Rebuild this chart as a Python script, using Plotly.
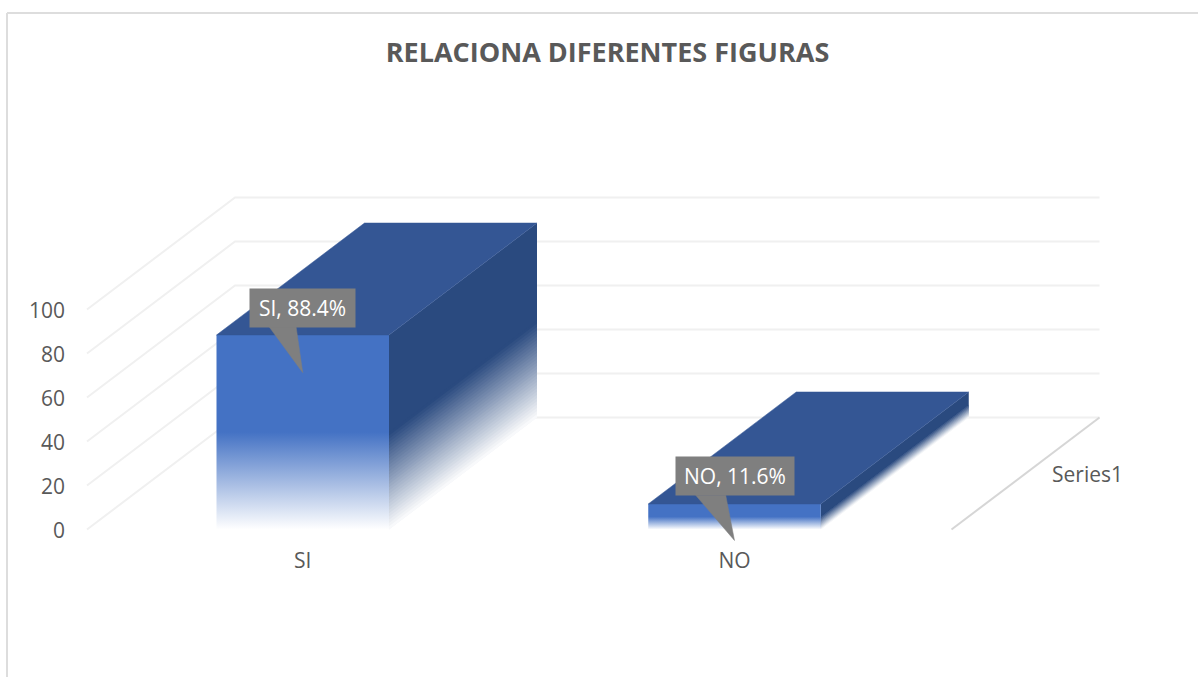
import plotly.graph_objects as go

categorias = ["SI", "NO"]
valores = [88.4, 11.6]
etiquetas = ["SI, 88.4%", "NO, 11.6%"]
ticks_y = [0, 20, 40, 60, 80, 100]
serie = "Series1"
titulo = "RELACIONA DIFERENTES FIGURAS"

# escala de la pagina (px por unidad de eje)
PX_CAT = 431.75
PX_VAL = 2.2
X0_PX = 302.75
Y0_PX = 529.5
ANCHO, ALTO = 1198, 677
PLOT_L, PLOT_R, PLOT_T, PLOT_B = 66, 1198, 90, 546

# estilo pseudo 3D
ANCHO_BARRA = 172.5 / PX_CAT
PROF_X = 148 / PX_CAT
PROF_Y = 112 / PX_VAL
PARED_X0 = (87 - X0_PX) / PX_CAT
PARED_X1 = (951.5 - X0_PX) / PX_CAT

AZUL = (68, 114, 196)
AZUL_TOP = "#345694"
AZUL_LADO = (42, 74, 127)
GRIS_GRID = "#f0f0f0"
GRIS_EJE = "#d6d6d6"
GRIS_TXT = "#595959"
GRIS_LABEL = "#7f7f7f"
FUENTE = "Open Sans"

# globo de las etiquetas: base del pico (px respecto al centro) y punta en valor de eje
GLOBO_BASE = [(-34, -6.75), (-38.8, -8.8)]
GLOBO_PUNTA = [71.3, -5.0]
GLOBO_DY = 27.5


def poligono(xs, ys, color, borde=0.5):
    return go.Scatter(x=xs + xs[:1], y=ys + ys[:1], mode="lines", fill="toself", fillcolor=color,
                      line=dict(color=color, width=borde), hoverinfo="skip", showlegend=False)


def mezcla(c, t):
    return "rgb(%d,%d,%d)" % tuple(round(255 + (k - 255) * t) for k in c)


fig = go.Figure()

# paredes y rejilla
for t in ticks_y:
    fig.add_trace(go.Scatter(
        x=[PARED_X0, PARED_X0 + PROF_X, PARED_X1 + PROF_X],
        y=[t, t + PROF_Y, t + PROF_Y],
        mode="lines", line=dict(color=GRIS_GRID, width=2), hoverinfo="skip", showlegend=False))

# eje de profundidad
fig.add_trace(go.Scatter(x=[PARED_X1, PARED_X1 + PROF_X], y=[0, PROF_Y], mode="lines",
                         line=dict(color=GRIS_EJE, width=2), hoverinfo="skip", showlegend=False))

# barras
for i, v in enumerate(valores):
    x0, x1 = i - ANCHO_BARRA / 2, i + ANCHO_BARRA / 2

    # cara lateral: tramos de arriba abajo, cada uno solapa con el anterior para evitar costuras
    n = 30
    paso = v * 0.5 / n
    fig.add_trace(poligono([x1, x1, x1 + PROF_X, x1 + PROF_X],
                           [v * 0.5 - paso, v, v + PROF_Y, v * 0.5 - paso + PROF_Y],
                           mezcla(AZUL_LADO, 1), borde=0))
    for k in range(n):
        arriba = v * 0.5 - k * paso
        abajo = max(arriba - 2 * paso, 0)
        fig.add_trace(poligono([x1, x1, x1 + PROF_X, x1 + PROF_X],
                               [abajo, arriba, arriba + PROF_Y, abajo + PROF_Y],
                               mezcla(AZUL_LADO, 1 - k / n), borde=0))

    # cara frontal
    fig.add_trace(go.Scatter(
        x=[x0, x1, x1, x0, x0], y=[0, 0, v, v, 0], mode="lines", fill="toself",
        line=dict(width=0),
        fillgradient=dict(type="vertical", start=0, stop=v,
                          colorscale=[[0, "rgba(%d,%d,%d,0)" % AZUL],
                                      [0.5, "rgb(%d,%d,%d)" % AZUL],
                                      [1, "rgb(%d,%d,%d)" % AZUL]]),
        hoverinfo="skip", showlegend=False))

    # cara superior
    fig.add_trace(poligono([x0, x1, x1 + PROF_X, x0 + PROF_X],
                           [v, v, v + PROF_Y, v + PROF_Y], AZUL_TOP))

# etiquetas con globo
anotaciones = []
for i, v in enumerate(valores):
    base_y = v + (GLOBO_DY - 18.75) / PX_VAL
    fig.add_trace(poligono([i + GLOBO_BASE[i][0] / PX_CAT, i + GLOBO_BASE[i][1] / PX_CAT, i],
                           [base_y, base_y, GLOBO_PUNTA[i]], GRIS_LABEL))
    anotaciones.append(dict(x=i, y=v, xref="x", yref="y", yshift=GLOBO_DY, text=etiquetas[i],
                            showarrow=False, bgcolor=GRIS_LABEL, width=103 if i == 0 else 116,
                            height=36, align="center", valign="middle",
                            font=dict(family=FUENTE, size=21, color="white")))

anotaciones.append(dict(x=(1087 - X0_PX) / PX_CAT, y=(Y0_PX - 474) / PX_VAL, xref="x", yref="y",
                        text=serie, showarrow=False, font=dict(family=FUENTE, size=21, color=GRIS_TXT)))

# marco del grafico
marco = [
    dict(type="line", xref="paper", yref="paper", x0=7 / ANCHO, x1=7 / ANCHO, y0=0, y1=1 - 13 / ALTO,
         line=dict(color="#dddddd", width=2)),
    dict(type="line", xref="paper", yref="paper", x0=7 / ANCHO, x1=1, y0=1 - 13 / ALTO, y1=1 - 13 / ALTO,
         line=dict(color="#dddddd", width=2)),
]

fig.update_layout(
    width=ANCHO, height=ALTO,
    margin=dict(l=0, r=0, t=0, b=0),
    paper_bgcolor="white", plot_bgcolor="white",
    showlegend=False,
    title=dict(text="<b>%s</b>" % titulo, x=607.5 / ANCHO, xanchor="center", y=1 - 53 / ALTO, yanchor="middle",
               font=dict(family=FUENTE, size=27, color=GRIS_TXT)),
    xaxis=dict(domain=[PLOT_L / ANCHO, PLOT_R / ANCHO],
               range=[(PLOT_L - X0_PX) / PX_CAT, (PLOT_R - X0_PX) / PX_CAT],
               tickvals=list(range(len(categorias))), ticktext=categorias,
               showgrid=False, zeroline=False, showline=False, ticks="",
               tickfont=dict(family=FUENTE, size=21, color=GRIS_TXT)),
    yaxis=dict(domain=[1 - PLOT_B / ALTO, 1 - PLOT_T / ALTO],
               range=[(Y0_PX - PLOT_B) / PX_VAL, (Y0_PX - PLOT_T) / PX_VAL],
               tickvals=ticks_y, ticklabelshift=1,
               showgrid=False, zeroline=False, showline=False, ticks="",
               tickfont=dict(family=FUENTE, size=21, color=GRIS_TXT)),
    annotations=anotaciones,
    shapes=marco,
)

# el body trae 8px de margen por defecto
fig.write_html("out.html", config=dict(displayModeBar=False),
               post_script="document.body.style.margin='0';")
